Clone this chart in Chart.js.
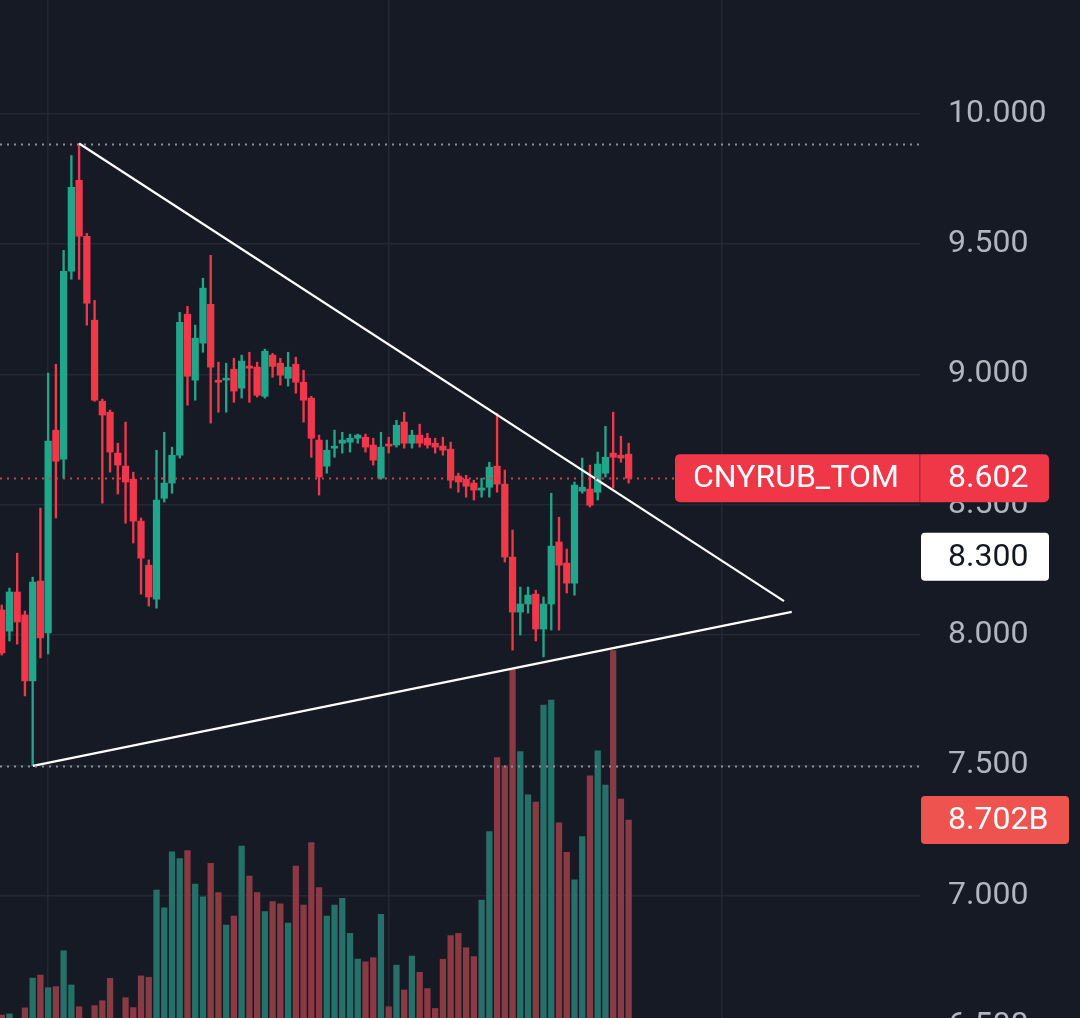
<!DOCTYPE html>
<html lang="en">
<head>
<meta charset="UTF-8">
<title>CNYRUB_TOM</title>
<script src="https://cdn.jsdelivr.net/npm/chart.js@4.4.0/dist/chart.umd.min.js"></script>
<style>
    html, body {
        margin: 0;
        padding: 0;
        background: #161a25;
        overflow: hidden;
    }
    #wrap {
        width: 1080px;
        height: 1060px;
    }
</style>
</head>
<body>
<div id="wrap"><canvas id="chart" width="1080" height="1060"></canvas></div>
<script>
// daily candles, oldest first
const opens = [8.096, 8.015, 8.165, 8.077, 7.824, 8.207, 8.008, 8.786, 8.675, 9.396,
    9.745, 9.530, 9.208, 8.897, 8.855, 8.698, 8.648, 8.598, 8.437, 8.268,
    8.138, 8.525, 8.583, 8.690, 9.231, 8.978, 9.120, 9.269, 8.978, 8.978,
    9.020, 8.947, 9.028, 9.028, 8.916, 9.074, 9.043, 8.985, 9.039, 8.970,
    8.909, 8.748, 8.648, 8.717, 8.736, 8.740, 8.755, 8.759, 8.729, 8.602,
    8.732, 8.729, 8.817, 8.736, 8.767, 8.755, 8.736, 8.725, 8.713, 8.610,
    8.598, 8.583, 8.556, 8.567, 8.648, 8.579, 8.299, 8.088, 8.119, 8.157,
    8.023, 8.119, 8.357, 8.276, 8.199, 8.552, 8.560, 8.548, 8.621, 8.698,
    8.690, 8.694];
const highs = [8.115, 8.180, 8.314, 8.092, 8.222, 8.487, 9.005, 9.039, 9.476, 9.840,
    9.886, 9.541, 9.284, 8.905, 8.863, 8.736, 8.817, 8.625, 8.449, 8.288,
    8.709, 8.778, 8.721, 9.238, 9.261, 9.189, 9.369, 9.457, 9.047, 9.043,
    9.062, 9.074, 9.085, 9.047, 9.097, 9.081, 9.062, 9.085, 9.066, 9.016,
    8.916, 8.767, 8.748, 8.786, 8.778, 8.771, 8.771, 8.771, 8.755, 8.778,
    8.759, 8.824, 8.855, 8.786, 8.809, 8.774, 8.755, 8.759, 8.740, 8.621,
    8.613, 8.594, 8.602, 8.663, 8.851, 8.633, 8.403, 8.184, 8.184, 8.172,
    8.146, 8.544, 8.452, 8.330, 8.587, 8.679, 8.652, 8.702, 8.801, 8.855,
    8.763, 8.736];
const lows = [7.923, 7.977, 7.965, 7.766, 7.498, 7.912, 7.927, 8.449, 8.602, 9.365,
    9.365, 9.189, 8.897, 8.506, 8.625, 8.541, 8.429, 8.353, 8.157, 8.111,
    8.103, 8.510, 8.544, 8.679, 8.882, 8.901, 9.085, 8.813, 8.855, 8.855,
    8.893, 8.909, 8.893, 8.913, 8.909, 8.989, 8.959, 8.955, 8.928, 8.817,
    8.682, 8.537, 8.621, 8.682, 8.698, 8.702, 8.736, 8.702, 8.652, 8.598,
    8.698, 8.721, 8.717, 8.717, 8.721, 8.717, 8.698, 8.690, 8.564, 8.548,
    8.529, 8.518, 8.529, 8.529, 8.548, 8.280, 7.942, 8.000, 8.084, 7.977,
    7.916, 8.019, 8.019, 8.161, 8.153, 8.544, 8.491, 8.518, 8.606, 8.564,
    8.663, 8.583];
const closes = [7.931, 8.165, 8.050, 7.824, 8.203, 7.989, 8.744, 8.667, 9.396, 9.718,
    9.530, 9.273, 8.901, 8.844, 8.702, 8.652, 8.587, 8.437, 8.295, 8.146,
    8.518, 8.583, 8.690, 9.200, 8.993, 9.139, 9.331, 9.028, 8.970, 8.985,
    8.936, 9.051, 9.024, 8.920, 9.089, 9.031, 8.997, 9.028, 8.970, 8.901,
    8.755, 8.606, 8.709, 8.721, 8.748, 8.755, 8.767, 8.721, 8.671, 8.721,
    8.725, 8.805, 8.736, 8.767, 8.736, 8.729, 8.721, 8.709, 8.594, 8.587,
    8.571, 8.556, 8.564, 8.644, 8.579, 8.299, 8.088, 8.119, 8.153, 8.023,
    8.119, 8.341, 8.268, 8.199, 8.575, 8.567, 8.498, 8.656, 8.682, 8.682,
    8.679, 8.602];
// volume, billions
const volumes = [1.63, 1.67, 1.2, 1.89, 2.97, 3.08, 2.62, 2.66, 3.96, 2.72,
    1.93, 1.3, 1.97, 2.15, 2.96, 1.4, 2.26, 1.90, 3.05, 3.00,
    6.16, 5.52, 7.55, 7.30, 7.59, 6.38, 5.92, 7.13, 6.07, 4.89,
    5.22, 7.76, 6.67, 6.07, 5.38, 5.74, 5.66, 4.96, 7.03, 5.62,
    7.88, 6.25, 5.22, 5.62, 5.86, 4.59, 3.66, 3.56, 3.71, 5.28,
    1.93, 3.44, 2.54, 3.77, 3.18, 2.59, 1.87, 3.65, 4.51, 4.59,
    4.07, 3.75, 5.80, 8.28, 10.96, 10.66, 14.17, 11.18, 9.61, 9.35,
    12.87, 13.05, 8.60, 7.53, 6.53, 8.10, 10.30, 11.21, 9.97, 14.84,
    9.46, 8.702];

// triangle drawn on the chart (x = candle index)
const upperTrend = [{ x: 10, y: 9.886 }, { x: 101.07, y: 8.130 }];
const lowerTrend = [{ x: 4.04, y: 7.498 }, { x: 102.07, y: 8.089 }];

const symbol = 'CNYRUB_TOM';
const alertLevel = 8.300;
const monthLines = [6, 50, 93];

const UP = '#22a68b';
const DOWN = '#f0384a';
const UP_VOL = '#26706a';
const DOWN_VOL = '#8a3a43';

const idx = closes.map((c, i) => i);
const isUp = idx.map(i => closes[i] >= opens[i]);

const wickData = idx.map(i => ({ x: i, y: [lows[i], highs[i]] }));
const bodyData = idx.map(i => ({ x: i, y: [opens[i], closes[i]] }));
const volData = idx.map(i => ({ x: i, y: volumes[i] }));

const lastClose = closes[closes.length - 1];
const lastVol = volumes[volumes.length - 1];
const topMark = Math.max(...highs);
const lowMark = Math.min(...lows);

function box(ctx, x, y, w, h, r, color) {
    ctx.fillStyle = color;
    ctx.beginPath();
    ctx.roundRect(x, y, w, h, r);
    ctx.fill();
}

const overlay = {
    id: 'overlay',
    afterDatasetsDraw(chart) {
        const ctx = chart.ctx;
        const a = chart.chartArea;
        const ys = chart.scales.y;
        ctx.save();
        ctx.lineWidth = 2;
        ctx.setLineDash([2, 5]);
        ctx.strokeStyle = '#8d909a';
        [topMark, lowMark].forEach(v => {
            const y = Math.round(ys.getPixelForValue(v)) + 0.5;
            ctx.beginPath();
            ctx.moveTo(a.left, y);
            ctx.lineTo(a.right, y);
            ctx.stroke();
        });
        ctx.strokeStyle = '#c8404f';
        const yc = Math.round(ys.getPixelForValue(lastClose)) + 0.5;
        ctx.beginPath();
        ctx.moveTo(a.left, yc);
        ctx.lineTo(675, yc);
        ctx.stroke();
        ctx.restore();
    },
    afterDraw(chart) {
        const ctx = chart.ctx;
        const a = chart.chartArea;
        const ys = chart.scales.y;
        const yv = chart.scales.vol;
        const tx = a.right + 28;
        ctx.save();
        ctx.font = '32px Roboto, sans-serif';
        ctx.textBaseline = 'middle';
        ctx.textAlign = 'left';

        // last price + symbol
        const yc = ys.getPixelForValue(lastClose);
        box(ctx, 675, yc - 24, a.right + 129 - 675, 48, 5, '#ef3748');
        ctx.fillStyle = 'rgba(120, 20, 30, 0.45)';
        ctx.fillRect(a.right - 1, yc - 24, 1.5, 48);
        ctx.fillStyle = '#ffffff';
        ctx.fillText(symbol, 693, yc + 1);
        ctx.fillText(lastClose.toFixed(3), tx, yc + 1);

        // alert level
        const ya = ys.getPixelForValue(alertLevel);
        box(ctx, a.right + 1, ya - 24, 128, 48, 4, '#ffffff');
        ctx.fillStyle = '#131722';
        ctx.fillText(alertLevel.toFixed(3), tx, ya + 1);

        // last volume
        const yvv = yv.getPixelForValue(lastVol);
        box(ctx, a.right + 1, yvv - 24, 148, 48, 4, '#ef5350');
        ctx.fillStyle = '#ffffff';
        ctx.fillText(lastVol.toFixed(3) + 'B', tx, yvv + 1);
        ctx.restore();
    }
};

Chart.defaults.font.family = 'Roboto, sans-serif';

new Chart(document.getElementById('chart'), {
    data: {
        datasets: [
            {
                type: 'line',
                data: upperTrend,
                borderColor: '#ffffff',
                borderWidth: 2.3,
                pointRadius: 0,
                yAxisID: 'y',
                order: 1
            },
            {
                type: 'line',
                data: lowerTrend,
                borderColor: '#ffffff',
                borderWidth: 2.3,
                pointRadius: 0,
                yAxisID: 'y',
                order: 1
            },
            {
                type: 'bar',
                data: bodyData,
                backgroundColor: idx.map(i => isUp[i] ? UP : DOWN),
                barThickness: 6.6,
                minBarLength: 2,
                grouped: false,
                borderWidth: 0,
                yAxisID: 'y',
                order: 2
            },
            {
                type: 'bar',
                data: wickData,
                backgroundColor: idx.map(i => isUp[i] ? UP : DOWN),
                barThickness: 1.7,
                grouped: false,
                borderWidth: 0,
                yAxisID: 'y',
                order: 3
            },
            {
                type: 'bar',
                data: volData,
                backgroundColor: idx.map(i => isUp[i] ? UP_VOL : DOWN_VOL),
                barThickness: 5.6,
                grouped: false,
                borderWidth: 0,
                yAxisID: 'vol',
                order: 4
            }
        ]
    },
    options: {
        responsive: false,
        devicePixelRatio: 1,
        animation: false,
        layout: { padding: 0 },
        plugins: {
            legend: { display: false },
            tooltip: { enabled: false }
        },
        scales: {
            x: {
                type: 'linear',
                min: -0.22,
                max: 118.64,
                offset: false,
                position: 'bottom',
                afterBuildTicks: s => { s.ticks = monthLines.map(v => ({ value: v })); },
                afterFit: s => { s.height = 0; s.paddingLeft = 0; s.paddingRight = 0; },
                ticks: { display: false },
                grid: { color: '#242834', lineWidth: 1.5, drawTicks: false, offset: false },
                border: { display: false }
            },
            y: {
                position: 'right',
                min: 6.3692,
                max: 10.4367,
                afterFit: s => { s.width = 160; s.paddingTop = 0; s.paddingBottom = 0; },
                grid: { color: '#242834', lineWidth: 1.5, drawTicks: false },
                border: { display: false },
                ticks: {
                    stepSize: 0.5,
                    includeBounds: false,
                    padding: 28,
                    color: '#b2b5be',
                    font: { size: 32 },
                    callback: v => Number(v).toFixed(3)
                }
            },
            vol: {
                display: false,
                min: 0,
                max: 38.43
            }
        }
    },
    plugins: [overlay]
});
</script>
</body>
</html>
